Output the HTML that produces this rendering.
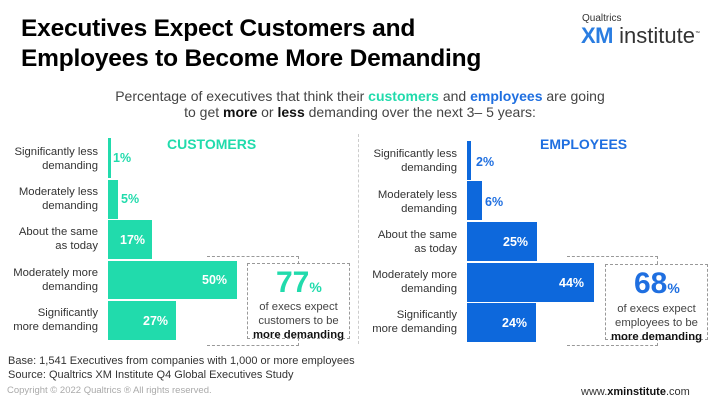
<!DOCTYPE html>
<html><head><meta charset="utf-8"><style>
*{margin:0;padding:0;box-sizing:border-box}
body{width:720px;height:405px;background:#fff;font-family:"Liberation Sans",sans-serif;position:relative;overflow:hidden;color:#222}
.a{position:absolute;white-space:nowrap}
.t{left:21px;font-size:24.5px;font-weight:bold;color:#000;letter-spacing:-0.2px}
.sub{font-size:14px;color:#444;text-align:center;width:560px;left:80px}
.lab{font-size:11.3px;color:#333;text-align:right;line-height:14px;width:100px}
.bar{position:absolute}
.g{background:#21dbac}.b{background:#0d68dc}
.v{font-size:12.5px;font-weight:bold;color:#fff}
.box{position:absolute;border:1px dashed #999}
.big{font-size:30px;font-weight:bold}
.note{font-size:11.3px;color:#444;text-align:center;line-height:14px}
</style></head><body>
<div class="a t" style="top:15px">Executives Expect Customers and</div>
<div class="a t" style="top:45px">Employees to Become More Demanding</div>
<div class="a" style="left:582px;top:13px;font-size:10px;color:#333">Qualtrics</div>
<div class="a" style="left:581px;top:23px;font-size:22px;"><b style="color:#2a7de1;letter-spacing:-0.5px">XM</b><span style="color:#333"> institute</span><sup style="font-size:5px">™</sup></div>
<div class="a sub" style="top:88px">Percentage of executives that think their <b style="color:#21dbac">customers</b> and <b style="color:#1f6fe0">employees</b> are going</div>
<div class="a sub" style="top:104px">to get <b style="color:#111">more</b> or <b style="color:#111">less</b> demanding over the next 3– 5 years:</div>

<div class="a" style="left:167px;top:136px;font-size:14px;font-weight:bold;color:#21dbac">CUSTOMERS</div>
<div class="a" style="left:540px;top:136px;font-size:14px;font-weight:bold;color:#1f6fe0">EMPLOYEES</div>
<div style="position:absolute;left:358px;top:134px;height:210px;border-left:1px dashed #ccc"></div>

<!-- customers -->
<div class="a lab" style="left:-2px;top:145px">Significantly less<br>demanding</div>
<div class="a lab" style="left:-2px;top:185px">Moderately less<br>demanding</div>
<div class="a lab" style="left:-2px;top:225px">About the same<br>as today</div>
<div class="a lab" style="left:-2px;top:266px">Moderately more<br>demanding</div>
<div class="a lab" style="left:-2px;top:306px">Significantly<br>more demanding</div>
<div class="bar g" style="left:108px;top:138px;width:3px;height:40px"></div>
<div class="bar g" style="left:108px;top:180px;width:10px;height:39px"></div>
<div class="bar g" style="left:108px;top:220px;width:44px;height:39px"></div>
<div class="bar g" style="left:108px;top:261px;width:129px;height:38px"></div>
<div class="bar g" style="left:108px;top:301px;width:68px;height:39px"></div>
<div class="a v" style="left:113px;top:151px;color:#21dbac">1%</div>
<div class="a v" style="left:121px;top:192px;color:#21dbac">5%</div>
<div class="a v" style="left:120px;top:233px">17%</div>
<div class="a v" style="left:202px;top:273px">50%</div>
<div class="a v" style="left:143px;top:314px">27%</div>
<div class="box" style="left:207px;top:256px;width:92px;height:90px;border-left:none"></div>
<div class="box" style="left:247px;top:263px;width:103px;height:76px;background:#fff"></div>
<div class="a big" style="left:276px;top:266px;color:#21dbac">77<span style="font-size:14px">%</span></div>
<div class="a note" style="left:247px;top:300px;width:103px">of execs expect<br>customers to be<br><b style="color:#111">more demanding</b></div>

<!-- employees -->
<div class="a lab" style="left:357px;top:147px">Significantly less<br>demanding</div>
<div class="a lab" style="left:357px;top:188px">Moderately less<br>demanding</div>
<div class="a lab" style="left:357px;top:228px">About the same<br>as today</div>
<div class="a lab" style="left:357px;top:268px">Moderately more<br>demanding</div>
<div class="a lab" style="left:357px;top:308px">Significantly<br>more demanding</div>
<div class="bar b" style="left:467px;top:141px;width:4px;height:39px"></div>
<div class="bar b" style="left:467px;top:181px;width:15px;height:39px"></div>
<div class="bar b" style="left:467px;top:222px;width:70px;height:39px"></div>
<div class="bar b" style="left:467px;top:263px;width:127px;height:39px"></div>
<div class="bar b" style="left:467px;top:303px;width:69px;height:39px"></div>
<div class="a v" style="left:476px;top:155px;color:#1f6fe0">2%</div>
<div class="a v" style="left:485px;top:195px;color:#1f6fe0">6%</div>
<div class="a v" style="left:503px;top:235px">25%</div>
<div class="a v" style="left:559px;top:276px">44%</div>
<div class="a v" style="left:502px;top:316px">24%</div>
<div class="box" style="left:567px;top:256px;width:91px;height:90px;border-left:none"></div>
<div class="box" style="left:605px;top:264px;width:103px;height:76px;background:#fff"></div>
<div class="a big" style="left:634px;top:267px;color:#1f6fe0">68<span style="font-size:14px">%</span></div>
<div class="a note" style="left:605px;top:302px;width:103px">of execs expect<br>employees to be<br><b style="color:#111">more demanding</b></div>

<div class="a" style="left:8px;top:355px;font-size:11px;color:#333">Base: 1,541 Executives from companies with 1,000 or more employees</div>
<div class="a" style="left:8px;top:369px;font-size:11px;color:#333">Source: Qualtrics XM Institute Q4 Global Executives Study</div>
<div class="a" style="left:7px;top:385px;font-size:9.5px;color:#aaa">Copyright © 2022 Qualtrics ® All rights reserved.</div>
<div class="a" style="left:581px;top:386px;font-size:11px;color:#333">www.<b style="color:#111">xminstitute</b>.com</div>
</body></html>
